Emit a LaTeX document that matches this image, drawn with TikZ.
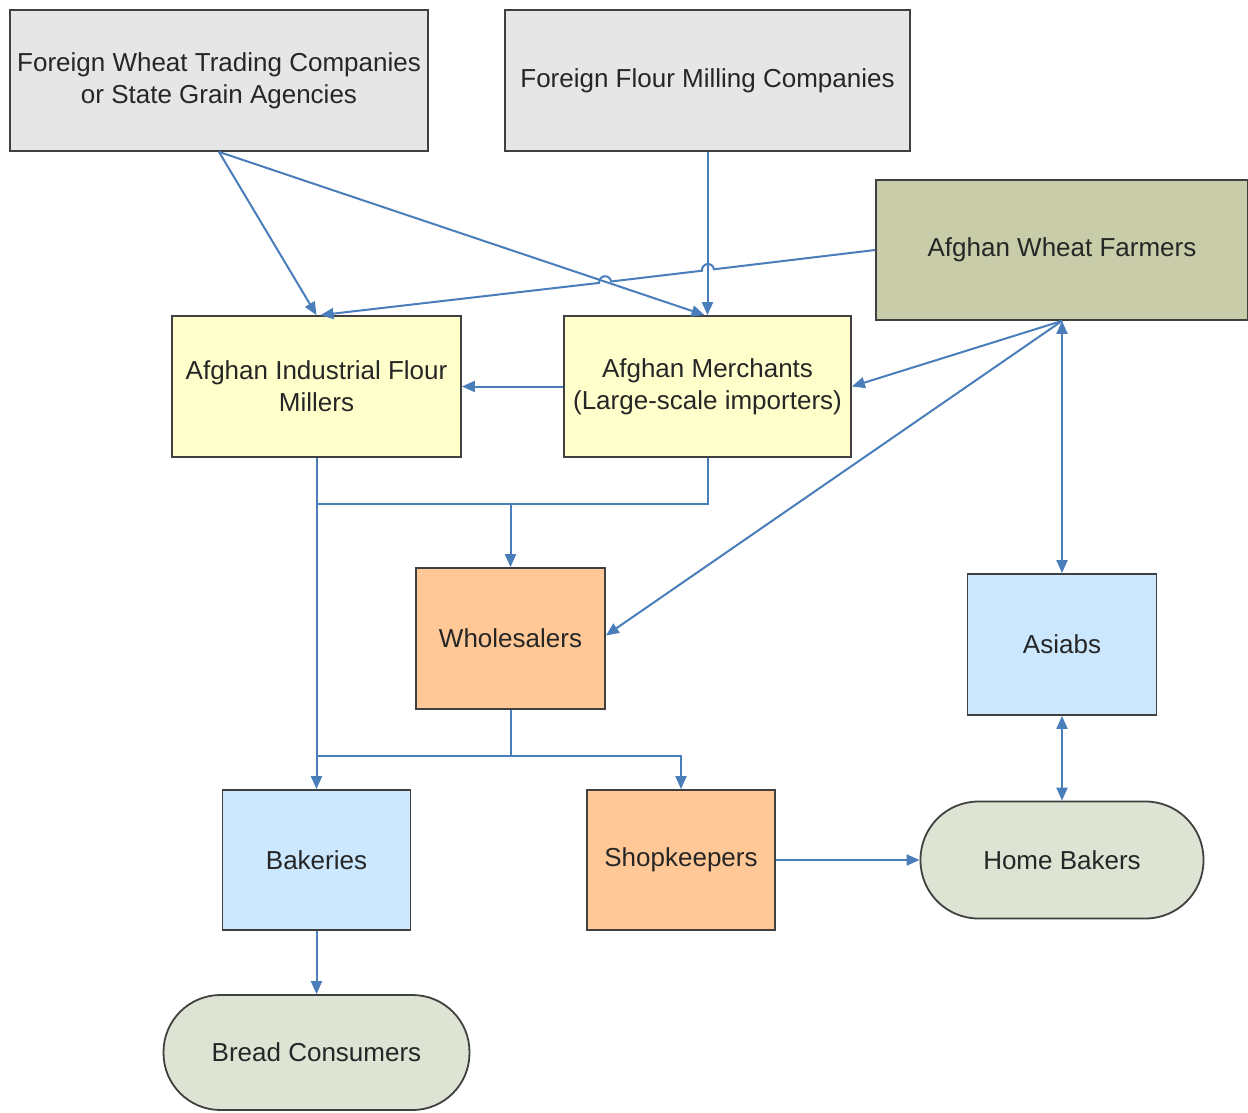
\documentclass[tikz,border=0pt]{standalone}
\usepackage{fontspec}
\setmainfont{Liberation Sans}
\usetikzlibrary{arrows.meta,calc}
\definecolor{conn}{RGB}{74,126,187}
\definecolor{cgray}{RGB}{230,230,230}
\definecolor{cfarm}{RGB}{200,204,168}
\definecolor{cyel}{RGB}{255,255,204}
\definecolor{corange}{RGB}{255,200,150}
\definecolor{cblue}{RGB}{204,232,255}
\definecolor{cstad}{RGB}{221,228,212}
\begin{document}
\begin{tikzpicture}[x=1pt,y=1pt,
  box/.style={draw=black!75, line width=1.8pt, inner sep=0pt, align=center,
    font=\fontsize{26}{32}\selectfont, text=black!85},
  flow/.style={draw=conn, line width=2pt},
  arr/.style={flow, -{Triangle[length=13pt,width=11pt]}},
  darr/.style={flow, {Triangle[length=13pt,width=11pt]}-{Triangle[length=13pt,width=11pt]}}]
\useasboundingbox (0,0) rectangle (1248,-1112);
\fill[white] (0,0) rectangle (1248,-1112);

\node[box, fill=cgray, minimum width=418pt, minimum height=141pt] (fwt) at (219,-80.5)
  {Foreign Wheat Trading Companies\\or State Grain Agencies};
\node[box, fill=cgray, minimum width=405pt, minimum height=141pt] (ffm) at (707.5,-80.5)
  {Foreign Flour Milling Companies};
\node[box, fill=cfarm, minimum width=372pt, minimum height=140pt] (awf) at (1062,-250)
  {Afghan Wheat Farmers};
\node[box, fill=cyel, minimum width=289pt, minimum height=141pt] (aifm) at (316.5,-386.5)
  {Afghan Industrial Flour\\Millers};
\node[box, fill=cyel, minimum width=287pt, minimum height=141pt] (am) at (707.5,-386.5)
  {Afghan Merchants\\(Large-scale importers)};
\node[box, fill=corange, minimum width=189pt, minimum height=141pt] (whole) at (510.5,-638.5)
  {Wholesalers};
\node[box, fill=cblue, minimum width=189pt, minimum height=141pt] (asiabs) at (1062,-644.5)
  {Asiabs};
\node[box, fill=cblue, minimum width=188pt, minimum height=140pt] (bak) at (316.5,-860)
  {Bakeries};
\node[box, fill=corange, minimum width=188pt, minimum height=140pt] (shop) at (681,-860)
  {Shopkeepers};
\node[box, fill=cstad, minimum width=283pt, minimum height=117pt, rounded corners=58pt] (hb) at (1062,-860)
  {Home Bakers};
\node[box, fill=cstad, minimum width=306pt, minimum height=115pt, rounded corners=57pt] (bc) at (316.5,-1052.5)
  {Bread Consumers};

% hop points
\coordinate (hA) at (605.1,-282.2);
\coordinate (hB) at (708,-270);
\coordinate (j1) at (316.5,-504);
\coordinate (j2) at (316.5,-756);

\draw[arr] (fwt.south) -- (aifm.north);
\draw[arr] (fwt.south) -- ($(am.north)+(-3,0)$);
\draw[arr] (ffm.south) -- (am.north);
\draw[arr] (awf.west) -- ($(hB)+(6.78:6)$) arc[start angle=6.78,end angle=186.78,radius=6]
  -- ($(hA)+(6.78:6)$) arc[start angle=6.78,end angle=186.78,radius=6]
  -- ($(aifm.north)+(4,0)$);
\draw[arr] (am.west) -- (aifm.east);
\draw[arr] (awf.south) -- (am.east);
\draw[arr] (awf.south) -- ($(whole.east)+(0,3)$);
\draw[darr] (awf.south) -- (asiabs.north);
\draw[darr] (asiabs.south) -- (hb.north);
\draw[arr] (aifm.south) -- (bak.north);
\draw[flow] (am.south) |- (j1);
\draw[arr] (j1 -| whole.north) -- (whole.north);
\draw[flow] (whole.south) -- (whole.south |- j2);
\draw[arr] (j2) -| (shop.north);
\draw[arr] (shop.east) -- (hb.west);
\draw[arr] (bak.south) -- (bc.north);
\end{tikzpicture}
\end{document}
